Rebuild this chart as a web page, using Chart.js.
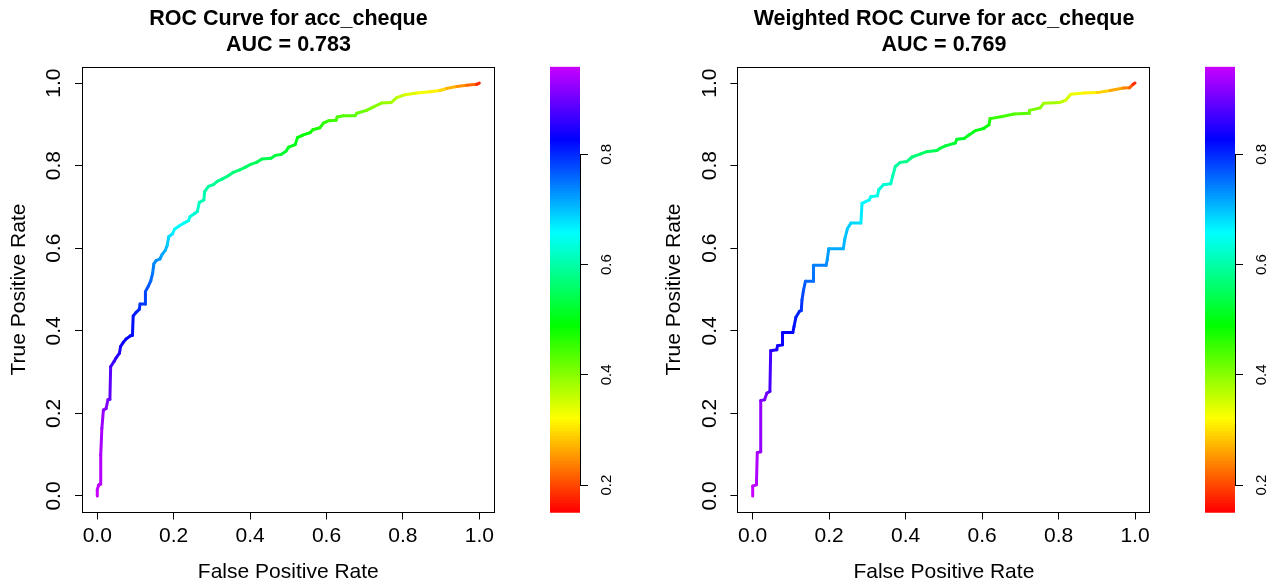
<!DOCTYPE html>
<html><head><meta charset="utf-8">
<script src="https://cdn.jsdelivr.net/npm/chart.js@4.4.1/dist/chart.umd.min.js"></script>
<style>
html,body{margin:0;padding:0;background:#fff;width:1279px;height:586px;overflow:hidden;}
.box{position:absolute;top:0;height:586px;}
canvas{display:block;}
</style></head><body>
<div class="box" style="left:0px;width:577px"><canvas id="c1"></canvas></div>
<div class="box" style="left:550px;width:80px"><canvas id="cb1"></canvas></div>
<div class="box" style="left:655px;width:578px"><canvas id="c2"></canvas></div>
<div class="box" style="left:1205px;width:74px"><canvas id="cb2"></canvas></div>
<script>
// ---------- data ----------
const title1 = ['ROC Curve for acc_cheque', 'AUC = 0.783'];
const title2 = ['Weighted ROC Curve for acc_cheque', 'AUC = 0.769'];
const xLabel = 'False Positive Rate';
const yLabel = 'True Positive Rate';
const axisTicks = [0, 0.2, 0.4, 0.6, 0.8, 1.0];
const colorbarTicks = [0.2, 0.4, 0.6, 0.8];
const cutMin = 0.150, cutMax = 0.959;

const fpr1 = [0,0,0.004,0.009,0.009,0.012,0.016,0.023,0.028,0.033,0.035,0.044,0.049,0.058,0.061,0.068,0.075,0.087,0.092,0.094,
0.101,0.110,0.112,0.126,0.126,0.133,0.140,0.145,0.148,0.154,0.164,0.169,0.178,0.183,0.187,0.197,0.202,0.216,0.229,0.239,
0.243,0.253,0.262,0.267,0.279,0.281,0.291,0.304,0.314,0.328,0.342,0.356,0.373,0.387,0.401,0.417,0.431,0.455,0.466,0.481,
0.494,0.501,0.518,0.524,0.538,0.557,0.564,0.583,0.592,0.606,0.625,0.628,0.644,0.675,0.679,0.705,0.722,0.745,0.769,0.784,
0.806,0.836,0.871,0.897,0.914,0.941,0.967,0.993,1.0];
const tpr1 = [0,0.016,0.027,0.029,0.099,0.164,0.208,0.212,0.233,0.234,0.313,0.326,0.334,0.346,0.362,0.372,0.380,0.388,0.389,0.436,
0.444,0.452,0.465,0.465,0.495,0.507,0.521,0.540,0.562,0.570,0.574,0.584,0.595,0.607,0.628,0.635,0.646,0.655,0.662,0.667,
0.677,0.683,0.689,0.711,0.717,0.737,0.750,0.754,0.762,0.768,0.775,0.784,0.790,0.796,0.803,0.808,0.816,0.818,0.825,0.827,
0.835,0.845,0.851,0.868,0.874,0.880,0.887,0.892,0.903,0.909,0.910,0.918,0.921,0.921,0.927,0.934,0.942,0.952,0.953,0.965,
0.972,0.976,0.979,0.982,0.987,0.992,0.995,0.997,1.0];
const cut1 = [0.959,0.955,0.950,0.948,0.940,0.932,0.922,0.915,0.905,0.900,0.872,0.862,0.855,0.848,0.840,0.834,0.828,0.822,0.820,0.810,
0.804,0.798,0.792,0.788,0.775,0.768,0.760,0.748,0.735,0.730,0.726,0.718,0.708,0.698,0.680,0.672,0.662,0.655,0.650,0.645,
0.637,0.630,0.624,0.612,0.607,0.598,0.592,0.588,0.583,0.578,0.572,0.566,0.561,0.556,0.551,0.546,0.540,0.534,0.529,0.524,
0.518,0.510,0.503,0.496,0.489,0.480,0.474,0.466,0.458,0.452,0.446,0.440,0.435,0.428,0.422,0.412,0.404,0.392,0.382,0.370,
0.350,0.332,0.318,0.300,0.282,0.255,0.232,0.205,0.150];

const fpr2 = [0,0,0.009,0.010,0.012,0.021,0.021,0.031,0.037,0.045,0.047,0.063,0.065,0.078,0.078,0.105,0.108,0.113,0.122,0.127,
0.129,0.133,0.138,0.159,0.159,0.192,0.195,0.199,0.237,0.241,0.248,0.257,0.283,0.286,0.305,0.309,0.326,0.330,0.342,0.361,
0.366,0.373,0.386,0.403,0.417,0.438,0.455,0.482,0.490,0.504,0.530,0.534,0.553,0.565,0.583,0.604,0.618,0.621,0.653,0.684,
0.723,0.724,0.752,0.761,0.803,0.818,0.832,0.866,0.901,0.935,0.970,0.986,0.995,1.0];
const tpr2 = [0,0.024,0.027,0.037,0.105,0.107,0.231,0.233,0.249,0.253,0.352,0.354,0.364,0.366,0.396,0.396,0.410,0.433,0.447,0.449,
0.475,0.499,0.520,0.520,0.559,0.559,0.572,0.599,0.599,0.623,0.648,0.661,0.661,0.709,0.717,0.725,0.727,0.742,0.754,0.756,
0.774,0.798,0.808,0.810,0.821,0.828,0.834,0.837,0.842,0.848,0.855,0.864,0.866,0.874,0.885,0.890,0.899,0.914,0.919,0.925,
0.927,0.934,0.940,0.951,0.953,0.958,0.973,0.976,0.977,0.982,0.988,0.989,0.997,1.0];
const cut2 = [0.959,0.955,0.950,0.946,0.935,0.930,0.914,0.908,0.898,0.890,0.852,0.846,0.840,0.835,0.826,0.822,0.816,0.808,0.802,0.798,
0.785,0.772,0.760,0.752,0.742,0.735,0.728,0.715,0.708,0.700,0.692,0.684,0.678,0.658,0.652,0.646,0.641,0.636,0.628,0.622,
0.612,0.596,0.586,0.580,0.570,0.560,0.550,0.540,0.534,0.528,0.520,0.514,0.510,0.505,0.500,0.494,0.485,0.460,0.448,0.436,
0.424,0.418,0.400,0.390,0.370,0.355,0.338,0.319,0.300,0.276,0.246,0.225,0.200,0.150];

// ---------- helpers ----------
const FONT = "'Liberation Sans', Arial, Helvetica, sans-serif";
Chart.defaults.font.family = FONT;
Chart.defaults.color = '#000';

function colorFor(v) {
  let t = (v - cutMin) / (cutMax - cutMin);
  t = Math.max(0, Math.min(1, t));
  return 'hsl(' + (t * 288).toFixed(1) + ',100%,50%)';
}

const framePlugin = {
  id: 'frame',
  afterDraw(ch) {
    const a = ch.chartArea, c = ch.ctx;
    c.save();
    c.strokeStyle = '#000'; c.lineWidth = 1;
    c.strokeRect(Math.round(a.left) + 0.5, Math.round(a.top) + 0.5,
                 Math.round(a.right - a.left) - 1, Math.round(a.bottom - a.top) - 1);
    c.restore();
  }
};

const rotLabels = {
  id: 'rotLabels',
  afterDraw(ch, args, o) {
    const s = ch.scales[o.axis]; const c = ch.ctx;
    c.save();
    c.font = o.size + 'px ' + FONT;
    c.fillStyle = '#000'; c.textAlign = 'center'; c.textBaseline = 'middle';
    s.ticks.forEach(t => {
      const y = s.getPixelForValue(t.value);
      const x = o.side === 'left' ? ch.chartArea.left - o.offset : ch.chartArea.right + o.offset;
      c.save(); c.translate(x, y); c.rotate(-Math.PI / 2);
      c.fillText(t.value.toFixed(1), 0, 0);
      c.restore();
    });
    if (o.axisLine) {
      const y0 = s.getPixelForValue(colorbarTicks[0]);
      const y1 = s.getPixelForValue(colorbarTicks[colorbarTicks.length - 1]);
      const x = Math.round(ch.chartArea.right) + 0.5;
      c.strokeStyle = '#000'; c.lineWidth = 1;
      c.beginPath(); c.moveTo(x, y0); c.lineTo(x, y1); c.stroke();
    }
    c.restore();
  }
};

function setTicks(vals) {
  return s => { s.ticks = vals.map(v => ({ value: v })); };
}

function makeROC(id, fpr, tpr, cut, title, leftW, rightW) {
  const pts = fpr.map((x, i) => ({ x: x, y: tpr[i] }));
  return new Chart(document.getElementById(id), {
    type: 'scatter',
    data: {
      datasets: [{
        data: pts,
        showLine: true,
        borderWidth: 3,
        pointRadius: 0,
        borderCapStyle: 'round',
        borderJoinStyle: 'round',
        borderColor: colorFor(cut[0]),
        segment: {
          borderColor: c => colorFor((cut[c.p0DataIndex] + cut[c.p1DataIndex]) / 2)
        }
      }]
    },
    options: {
      responsive: true, maintainAspectRatio: false, animation: false,
      devicePixelRatio: 1,
      layout: { padding: 0 },
      plugins: {
        legend: { display: false },
        tooltip: { enabled: false },
        title: {
          display: true, text: title, color: '#000',
          font: { size: 21.5, weight: 'bold', lineHeight: 1.2 },
          padding: { top: 6, bottom: 9 }
        },
        rotLabels: { axis: 'y', side: 'left', offset: 27.3, size: 21 }
      },
      scales: {
        x: {
          type: 'linear', min: -0.04, max: 1.04,
          afterBuildTicks: setTicks(axisTicks),
          afterFit: s => { s.height = 73.5; },
          grid: { drawOnChartArea: false, tickLength: 7, color: '#000', lineWidth: 1 },
          border: { display: false },
          ticks: { font: { size: 21 }, color: '#000', padding: 4.5, maxRotation: 0,
                   callback: v => v.toFixed(1) },
          title: { display: true, text: xLabel, font: { size: 21 }, color: '#000',
                   padding: { top: 0, bottom: 1.5 } }
        },
        y: {
          type: 'linear', min: -0.04, max: 1.04,
          afterBuildTicks: setTicks(axisTicks),
          afterFit: s => { s.width = leftW; },
          grid: { drawOnChartArea: false, tickLength: 7, color: '#000', lineWidth: 1 },
          border: { display: false },
          ticks: { display: false },
          title: { display: true, text: yLabel, font: { size: 21 }, color: '#000',
                   padding: { top: 7, bottom: 0 } }
        },
        yR: {
          type: 'linear', position: 'right', display: true,
          afterFit: s => { s.width = rightW; },
          grid: { display: false }, border: { display: false }, ticks: { display: false }
        }
      }
    },
    plugins: [framePlugin, rotLabels]
  });
}

function makeColorbar(id, axisW) {
  const n = 160;
  const ds = [];
  for (let i = 0; i < n; i++) {
    const lo = cutMin + (cutMax - cutMin) * i / n;
    const hi = cutMin + (cutMax - cutMin) * (i + 1) / n;
    ds.push({ data: [[lo, Math.min(cutMax, hi + 0.002)]], backgroundColor: colorFor((lo + hi) / 2),
              borderWidth: 0, barPercentage: 1, categoryPercentage: 1 });
  }
  return new Chart(document.getElementById(id), {
    type: 'bar',
    data: { labels: ['level'], datasets: ds },
    options: {
      responsive: true, maintainAspectRatio: false, animation: false,
      devicePixelRatio: 1,
      datasets: { bar: { grouped: false } },
      layout: { padding: { top: 66.7, bottom: 73.3, left: 0, right: 0 } },
      plugins: {
        legend: { display: false }, tooltip: { enabled: false },
        rotLabels: { axis: 'y', side: 'right', offset: 26.7, size: 15, axisLine: true }
      },
      scales: {
        x: { type: 'category', display: false },
        y: {
          type: 'linear', position: 'right', min: cutMin, max: cutMax,
          afterBuildTicks: setTicks(colorbarTicks),
          afterFit: s => { s.width = axisW; },
          grid: { drawOnChartArea: false, tickLength: 8, color: '#000', lineWidth: 1 },
          border: { display: false },
          ticks: { display: false }
        }
      }
    },
    plugins: [rotLabels]
  });
}

makeROC('c1', fpr1, tpr1, cut1, title1, 82, 82.4);
makeROC('c2', fpr2, tpr2, cut2, title2, 82.4, 82.7);
makeColorbar('cb1', 50);
makeColorbar('cb2', 44);
</script>
</body></html>
